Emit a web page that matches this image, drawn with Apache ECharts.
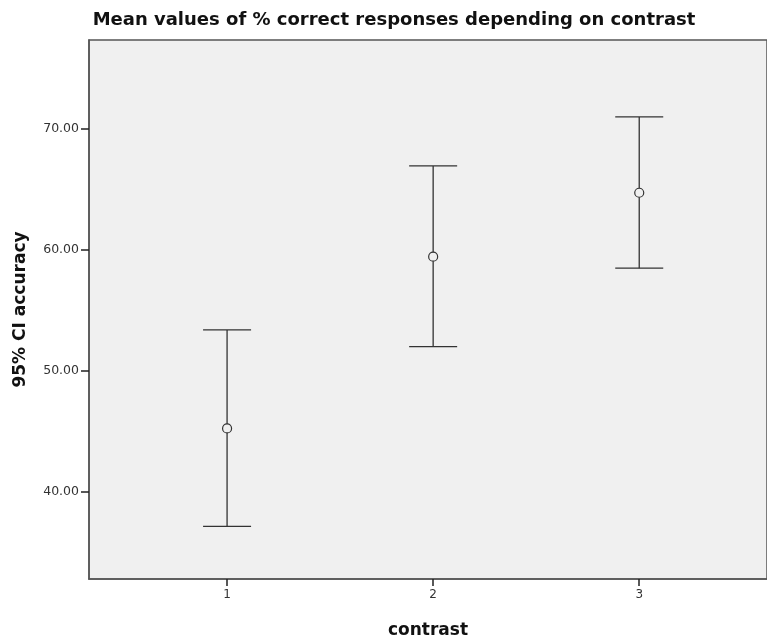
<!DOCTYPE html>
<html>
<head>
<meta charset="utf-8">
<script src="https://cdn.jsdelivr.net/npm/echarts@6/dist/echarts.min.js"></script>
<style>
html,body{margin:0;padding:0;background:#fff;}
#c{width:767px;height:644px;}
</style>
</head>
<body>
<div id="c"></div>
<script>
var categories = [1, 2, 3];
var meanValues = [45.23, 59.41, 64.69];
var lowerCI = [37.15, 51.98, 58.46];
var upperCI = [53.36, 66.90, 70.95];
var yTicks = [40, 50, 60, 70];

var chart = echarts.init(document.getElementById('c'));
var data = categories.map(function (c, i) { return [c, meanValues[i], lowerCI[i], upperCI[i]]; });

chart.setOption({
  animation: false,
  title: {
    text: 'Mean values of % correct responses depending on contrast',
    left: 389, top: 6, textAlign: 'center',
    textStyle: { fontFamily: 'DejaVu Sans', fontWeight: 'bold', fontSize: 18, color: '#111' }
  },
  grid: {
    left: 89, top: 40, right: 0, bottom: 59,
    show: true, backgroundColor: '#F0F0F0', borderColor: '#555', borderWidth: 1.5
  },
  xAxis: {
    type: 'value', min: 0.33, max: 3.62,
    name: 'contrast', nameLocation: 'middle', nameGap: 43,
    nameTextStyle: { fontFamily: 'DejaVu Sans', fontWeight: 'bold', fontSize: 17, color: '#111' },
    axisLine: { show: true, lineStyle: { color: '#555', width: 1.5 } },
    axisTick: { show: true, length: 7, customValues: categories, lineStyle: { color: '#222', width: 1.5 } },
    axisLabel: { customValues: categories, fontFamily: 'DejaVu Sans', fontSize: 12, color: '#333', margin: 10 },
    splitLine: { show: false }
  },
  yAxis: {
    type: 'value', min: 32.8, max: 77.3,
    name: '95% CI accuracy', nameLocation: 'middle', nameGap: 60,
    nameTextStyle: { fontFamily: 'DejaVu Sans', fontWeight: 'bold', fontSize: 17, color: '#111' },
    axisLine: { show: true, lineStyle: { color: '#555', width: 1.5 } },
    axisTick: { show: true, length: 8, customValues: yTicks, lineStyle: { color: '#222', width: 1.5 } },
    axisLabel: { customValues: yTicks, fontFamily: 'DejaVu Sans', fontSize: 12.5, color: '#333', margin: 10,
      formatter: function (v) { return v.toFixed(2); } },
    splitLine: { show: false }
  },
  series: [{
    type: 'custom',
    data: data,
    encode: { x: 0, y: [1, 2, 3] },
    renderItem: function (params, api) {
      var x = api.value(0);
      var m = api.coord([x, api.value(1)]);
      var lo = api.coord([x, api.value(2)]);
      var hi = api.coord([x, api.value(3)]);
      var hw = 24;
      var st = { stroke: '#333', lineWidth: 1.3, fill: null };
      return {
        type: 'group',
        children: [
          { type: 'line', shape: { x1: hi[0], y1: hi[1], x2: hi[0], y2: m[1] - 4.5 }, style: st },
          { type: 'line', shape: { x1: lo[0], y1: lo[1], x2: lo[0], y2: m[1] + 4.5 }, style: st },
          { type: 'line', shape: { x1: lo[0] - hw, y1: lo[1], x2: lo[0] + hw, y2: lo[1] }, style: st },
          { type: 'line', shape: { x1: hi[0] - hw, y1: hi[1], x2: hi[0] + hw, y2: hi[1] }, style: st },
          { type: 'circle', shape: { cx: m[0], cy: m[1], r: 4.5 }, style: { stroke: '#333', lineWidth: 1.2, fill: 'rgba(0,0,0,0)' } }
        ]
      };
    }
  }]
});
</script>
</body>
</html>
